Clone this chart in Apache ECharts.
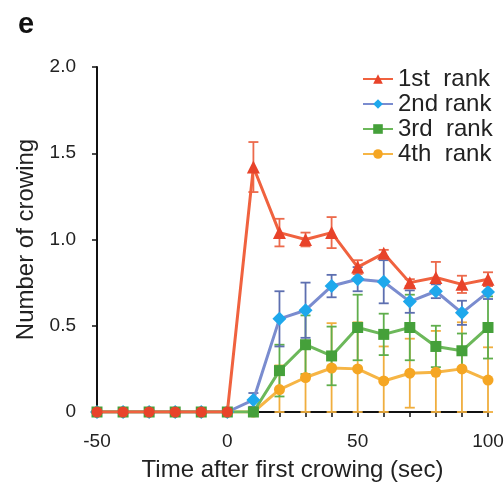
<!DOCTYPE html>
<html>
<head>
<meta charset="utf-8">
<script src="https://cdn.jsdelivr.net/npm/echarts@6/dist/echarts.min.js"></script>
<style>
  html, body { margin: 0; padding: 0; background: #fff; }
  #chart { width: 504px; height: 485px; }
</style>
</head>
<body>
<div id="chart"></div>
<script>
// data
var times = [-50, -40, -30, -20, -10, 0, 10, 20, 30, 40, 50, 60, 70, 80, 90, 100];
var rankNames = ['1st  rank', '2nd rank', '3rd  rank', '4th  rank'];
var rank1 = [0, 0, 0, 0, 0, 0, 1.42, 1.04, 1.00, 1.04, 0.84, 0.92, 0.75, 0.78, 0.74, 0.77];
var rank1Err = [0, 0, 0, 0, 0, 0, 0.145, 0.08, 0.04, 0.09, 0.04, 0.02, 0.02, 0.09, 0.05, 0.04];
var rank2 = [0, 0, 0, 0, 0, 0, 0.07, 0.54, 0.59, 0.73, 0.77, 0.755, 0.64, 0.70, 0.575, 0.695];
var rank2Err = [0, 0, 0, 0, 0, 0, 0.04, 0.16, 0.16, 0.065, 0.07, 0.125, 0.065, 0.04, 0.07, 0.04];
var rank3 = [0, 0, 0, 0, 0, 0, 0, 0.24, 0.39, 0.325, 0.49, 0.45, 0.49, 0.38, 0.355, 0.49];
var rank3Err = [0, 0, 0, 0, 0, 0, 0, 0.15, 0.17, 0.17, 0.19, 0.12, 0.19, 0.12, 0.10, 0.18];
var rank4 = [0, 0, 0, 0, 0, 0, 0, 0.13, 0.20, 0.255, 0.25, 0.18, 0.225, 0.23, 0.25, 0.185];
var rank4Err = [0, 0, 0, 0, 0, 0, 0, 0.14, 0.20, 0.26, 0.27, 0.20, 0.20, 0.24, 0.27, 0.19];

var FONT = "'Liberation Sans', Arial, sans-serif";

// red series uses round dots before the first crowing
function pairs(vals, firstSym) {
    return times.map(function (t, i) {
        var item = {value: [t, vals[i]]};
        if (firstSym && t <= 0) {
            item.symbol = firstSym;
            item.symbolSize = 11;
        }
        return item;
    });
}

function errData(vals, errs) {
    return times.map(function (t, i) {
        return [t, Math.max(0, vals[i] - errs[i]), vals[i] + errs[i]];
    });
}

function errRender(params, api) {
    var lo = api.value(1), hi = api.value(2);
    if (hi - lo < 0.001) return null;
    var x = api.value(0);
    var top = api.coord([x, hi]);
    var bot = api.coord([x, lo]);
    var w = 5;
    var style = {stroke: api.visual('color'), lineWidth: 1.8};
    return {
        type: 'group',
        children: [
            {type: 'line', shape: {x1: top[0], y1: top[1], x2: bot[0], y2: bot[1]}, style: style},
            {type: 'line', shape: {x1: top[0] - w, y1: top[1], x2: top[0] + w, y2: top[1]}, style: style},
            {type: 'line', shape: {x1: bot[0] - w, y1: bot[1], x2: bot[0] + w, y2: bot[1]}, style: style}
        ]
    };
}

function lineSeries(name, vals, sym, size, lineColor, markColor, z, firstSym) {
    return {
        name: name,
        type: 'line',
        data: pairs(vals, firstSym),
        symbol: sym,
        symbolSize: size,
        z: z,
        lineStyle: {color: lineColor, width: 3},
        itemStyle: {color: markColor},
        emphasis: {disabled: true}
    };
}

function errSeries(vals, errs, color, z) {
    return {
        type: 'custom',
        data: errData(vals, errs),
        renderItem: errRender,
        itemStyle: {color: color},
        z: z,
        silent: true
    };
}

var chart = echarts.init(document.getElementById('chart'));
chart.setOption({
    animation: false,
    title: {
        text: 'e', left: 13, top: 5,
        textStyle: {fontFamily: FONT, fontSize: 29, fontWeight: 'bold', color: '#111'}
    },
    grid: {left: 97, right: 16, top: 67, bottom: 73, outerBoundsMode: 'none'},
    legend: {
        orient: 'vertical',
        left: 362, top: 67, padding: 0,
        itemWidth: 30, itemHeight: 12, itemGap: 1,
        data: rankNames,
        textStyle: {fontFamily: FONT, fontSize: 24, lineHeight: 23.5, color: '#222'}
    },
    xAxis: {
        type: 'value', min: -50, max: 100, interval: 10,
        name: 'Time after first crowing (sec)',
        nameLocation: 'middle', nameGap: 46,
        nameTextStyle: {fontFamily: FONT, fontSize: 24, color: '#222'},
        axisLine: {lineStyle: {color: '#111', width: 2}},
        axisTick: {length: 5, lineStyle: {color: '#111', width: 1.5}},
        axisLabel: {
            fontFamily: FONT, fontSize: 19, color: '#222', margin: 20,
            formatter: function (v) { return v % 50 === 0 ? String(v) : ''; }
        },
        splitLine: {show: false}
    },
    yAxis: {
        type: 'value', min: 0, max: 2, interval: 0.5,
        name: 'Number of crowing',
        nameLocation: 'middle', nameGap: 59,
        nameTextStyle: {fontFamily: FONT, fontSize: 24, color: '#222'},
        axisLine: {show: true, onZero: false, lineStyle: {color: '#111', width: 2}},
        axisTick: {show: true, length: 5, lineStyle: {color: '#111', width: 1.5}},
        axisLabel: {
            fontFamily: FONT, fontSize: 19, color: '#222', margin: 21,
            formatter: function (v) { return v === 0 ? '0' : v.toFixed(1); }
        },
        splitLine: {show: false}
    },
    series: [
        errSeries(rank4, rank4Err, '#f0ae3e', 2),
        errSeries(rank3, rank3Err, '#5fae4c', 3),
        errSeries(rank2, rank2Err, '#5d6fb0', 3),
        errSeries(rank1, rank1Err, '#ec6a4c', 4),
        lineSeries(rankNames[0], rank1, 'triangle', 13, '#f0623f', '#e8432a', 6, 'circle'),
        lineSeries(rankNames[1], rank2, 'diamond', 14, '#7a8ccf', '#1ea8ec', 5),
        lineSeries(rankNames[2], rank3, 'rect', 11, '#6cb85a', '#45a03a', 5),
        lineSeries(rankNames[3], rank4, 'circle', 11, '#f6b545', '#f5a623', 4)
    ]
});
</script>
</body>
</html>
